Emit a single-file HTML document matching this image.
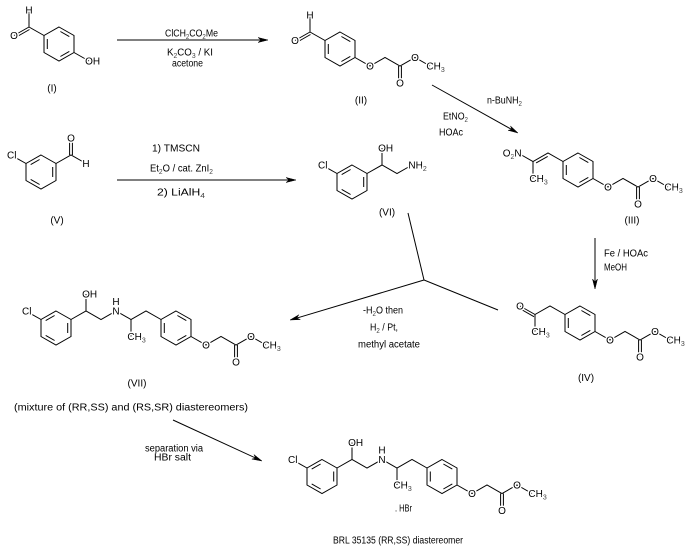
<!DOCTYPE html>
<html>
<head>
<meta charset="utf-8">
<style>
html,body{margin:0;padding:0;background:#fff;}
svg{display:block;}
line,polygon,polyline{stroke:#000;stroke-width:1;fill:none;}
polygon.ah{fill:#000;stroke:#000;stroke-width:0.5;}
text{font-family:"Liberation Sans",Arial,sans-serif;font-size:10px;fill:#000;}
.at{stroke:#fff;stroke-width:3;paint-order:stroke;stroke-linejoin:round;}
.s{font-size:7px;fill:#444;}
.mid{text-anchor:middle;}
.end{text-anchor:end;}
</style>
</head>
<body>
<svg width="688" height="548" viewBox="0 0 688 548" xmlns="http://www.w3.org/2000/svg">
<rect x="0" y="0" width="688" height="548" fill="#fff"/>

<!-- ===== Structure I ===== -->
<g transform="translate(59,44)">
  <polygon points="0,-17 15,-8.5 15,8.5 0,17 -15,8.5 -15,-8.5"/>
  <line x1="1.4" y1="-12.5" x2="10.3" y2="-7.4"/>
  <line x1="10.3" y1="7.4" x2="1.4" y2="12.5"/>
  <line x1="-11.7" y1="5" x2="-11.7" y2="-5"/>
  <polyline points="-15,-8.5 -30,-17 -30,-34"/>
  <line x1="-30" y1="-17" x2="-45" y2="-8.5"/>
  <line x1="-29.5" y1="-14.5" x2="-43.5" y2="-6.5"/>
  <line x1="15" y1="8.5" x2="30" y2="17"/>
  <text class="at mid" x="-30" y="-30.5">H</text>
  <text class="at mid" x="-45" y="-5">O</text>
  <text class="at" x="26.1" y="20.5">OH</text>
</g>
<text class="mid" x="52" y="91.5">(I)</text>

<!-- Arrow 1 -->
<line x1="117" y1="40" x2="262" y2="40"/>
<polygon class="ah" points="268,40 258,37.5 261,40 258,42.5"/>
<text x="165" y="36.5" textLength="53" lengthAdjust="spacingAndGlyphs">ClCH<tspan class="s" dy="2.5">2</tspan><tspan dy="-2.5">CO</tspan><tspan class="s" dy="2.5">2</tspan><tspan dy="-2.5">Me</tspan></text>
<text x="167" y="55.5" textLength="46" lengthAdjust="spacingAndGlyphs">K<tspan class="s" dy="2.5">2</tspan><tspan dy="-2.5">CO</tspan><tspan class="s" dy="2.5">3</tspan><tspan dy="-2.5"> / KI</tspan></text>
<text x="172" y="66.5" textLength="31" lengthAdjust="spacingAndGlyphs">acetone</text>

<!-- ===== Structure II ===== -->
<g transform="translate(340,49)">
  <polygon points="0,-17 15,-8.5 15,8.5 0,17 -15,8.5 -15,-8.5"/>
  <line x1="1.4" y1="-12.5" x2="10.3" y2="-7.4"/>
  <line x1="10.3" y1="7.4" x2="1.4" y2="12.5"/>
  <line x1="-11.7" y1="5" x2="-11.7" y2="-5"/>
  <polyline points="-15,-8.5 -30,-17 -30,-34"/>
  <line x1="-30" y1="-17" x2="-45" y2="-8.5"/>
  <line x1="-29.5" y1="-14.5" x2="-43.5" y2="-6.5"/>
  <polyline points="15,8.5 30,17 45,8.5 60,17 75,8.5 90,17"/>
  <line x1="58.6" y1="17" x2="58.6" y2="34"/>
  <line x1="61.4" y1="17" x2="61.4" y2="34"/>
  <text class="at mid" x="-30" y="-30.5">H</text>
  <text class="at mid" x="-45" y="-5">O</text>
  <text class="at mid" x="30" y="20.5">O</text>
  <text class="at mid" x="60" y="37.5">O</text>
  <text class="at mid" x="75" y="12">O</text>
  <text class="at" x="86.4" y="20.5">CH<tspan class="s" dy="2.5">3</tspan></text>
</g>
<text class="mid" x="361" y="103.5">(II)</text>

<!-- Arrow 2 -->
<line x1="432" y1="85" x2="513" y2="130.2"/>
<polygon class="ah" points="518,133 508.05,130.31 511.89,129.59 510.49,125.95"/>
<text x="487" y="103.5" textLength="35" lengthAdjust="spacingAndGlyphs">n-BuNH<tspan class="s" dy="2.5">2</tspan></text>
<text x="443" y="119.5" textLength="25" lengthAdjust="spacingAndGlyphs">EtNO<tspan class="s" dy="2.5">2</tspan></text>
<text x="439" y="135.5" textLength="24" lengthAdjust="spacingAndGlyphs">HOAc</text>

<!-- ===== Structure III ===== -->
<g transform="translate(578,170)">
  <polygon points="0,-17 15,-8.5 15,8.5 0,17 -15,8.5 -15,-8.5"/>
  <line x1="1.4" y1="-12.5" x2="10.3" y2="-7.4"/>
  <line x1="10.3" y1="7.4" x2="1.4" y2="12.5"/>
  <line x1="-11.7" y1="5" x2="-11.7" y2="-5"/>
  <polyline points="-15,-8.5 -30,-17 -45,-8.5 -60,-17"/>
  <line x1="-30.3" y1="-13.6" x2="-41.9" y2="-7.1"/>
  <line x1="-45" y1="-8.5" x2="-45" y2="8.5"/>
  <polyline points="15,8.5 30,17 45,8.5 60,17 75,8.5 90,17"/>
  <line x1="58.6" y1="17" x2="58.6" y2="34"/>
  <line x1="61.4" y1="17" x2="61.4" y2="34"/>
  <text class="at end" x="-56.4" y="-13.5">O<tspan class="s" dy="2.5">2</tspan><tspan dy="-2.5">N</tspan></text>
  <text class="at" x="-48.6" y="12">CH<tspan class="s" dy="2.5">3</tspan></text>
  <text class="at mid" x="30" y="20.5">O</text>
  <text class="at mid" x="60" y="37.5">O</text>
  <text class="at mid" x="75" y="12">O</text>
  <text class="at" x="86.4" y="20.5">CH<tspan class="s" dy="2.5">3</tspan></text>
</g>
<text class="mid" x="632" y="223.5">(III)</text>

<!-- Arrow 4 (III -> IV) -->
<line x1="595" y1="238" x2="595" y2="283"/>
<polygon class="ah" points="595,289 592.5,279 595,282 597.5,279"/>
<text x="604" y="256.5" textLength="44" lengthAdjust="spacingAndGlyphs">Fe / HOAc</text>
<text x="604" y="270.5" textLength="23" lengthAdjust="spacingAndGlyphs">MeOH</text>

<!-- ===== Structure IV ===== -->
<g transform="translate(580,323)">
  <polygon points="0,-17 15,-8.5 15,8.5 0,17 -15,8.5 -15,-8.5"/>
  <line x1="1.4" y1="-12.5" x2="10.3" y2="-7.4"/>
  <line x1="10.3" y1="7.4" x2="1.4" y2="12.5"/>
  <line x1="-11.7" y1="5" x2="-11.7" y2="-5"/>
  <polyline points="-15,-8.5 -30,-17 -45,-8.5 -45,8.5"/>
  <line x1="-45" y1="-8.5" x2="-60" y2="-17"/>
  <line x1="-46" y1="-6.3" x2="-59.5" y2="-14"/>
  <polyline points="15,8.5 30,17 45,8.5 60,17 75,8.5 90,17"/>
  <line x1="58.6" y1="17" x2="58.6" y2="34"/>
  <line x1="61.4" y1="17" x2="61.4" y2="34"/>
  <text class="at mid" x="-60" y="-13.5">O</text>
  <text class="at" x="-48.6" y="12">CH<tspan class="s" dy="2.5">3</tspan></text>
  <text class="at mid" x="30" y="20.5">O</text>
  <text class="at mid" x="60" y="37.5">O</text>
  <text class="at mid" x="75" y="12">O</text>
  <text class="at" x="86.4" y="20.5">CH<tspan class="s" dy="2.5">3</tspan></text>
</g>
<text class="mid" x="586" y="381">(IV)</text>

<!-- ===== Structure V ===== -->
<g transform="translate(41,172)">
  <polygon points="0,-17 15,-8.5 15,8.5 0,17 -15,8.5 -15,-8.5"/>
  <line x1="11.7" y1="-5" x2="11.7" y2="5"/>
  <line x1="-1.4" y1="12.5" x2="-10.3" y2="7.4"/>
  <line x1="-10.3" y1="-7.4" x2="-1.4" y2="-12.5"/>
  <line x1="-15" y1="-8.5" x2="-24" y2="-13.6"/>
  <polyline points="15,-8.5 30,-17 45,-8.5"/>
  <line x1="28.6" y1="-17" x2="28.6" y2="-34"/>
  <line x1="31.4" y1="-17" x2="31.4" y2="-34"/>
  <text class="at end" x="-24.5" y="-13.5">Cl</text>
  <text class="at mid" x="30" y="-30.5">O</text>
  <text class="at mid" x="45" y="-5">H</text>
</g>
<text class="mid" x="57" y="223.5">(V)</text>

<!-- Arrow 3 (V -> VI) -->
<line x1="117" y1="180" x2="290" y2="180"/>
<polygon class="ah" points="296,180 286,177.5 289,180 286,182.5"/>
<text x="152" y="151.5" textLength="48" lengthAdjust="spacingAndGlyphs">1) TMSCN</text>
<text x="150" y="171.5" textLength="63" lengthAdjust="spacingAndGlyphs">Et<tspan class="s" dy="2.5">2</tspan><tspan dy="-2.5">O / cat. ZnI</tspan><tspan class="s" dy="2.5">2</tspan></text>
<text x="157" y="195.5" textLength="48" lengthAdjust="spacingAndGlyphs">2) LiAlH<tspan class="s" dy="2.5">4</tspan></text>

<!-- ===== Structure VI ===== -->
<g transform="translate(352,182)">
  <polygon points="0,-17 15,-8.5 15,8.5 0,17 -15,8.5 -15,-8.5"/>
  <line x1="11.7" y1="-5" x2="11.7" y2="5"/>
  <line x1="-1.4" y1="12.5" x2="-10.3" y2="7.4"/>
  <line x1="-10.3" y1="-7.4" x2="-1.4" y2="-12.5"/>
  <line x1="-15" y1="-8.5" x2="-24" y2="-13.6"/>
  <polyline points="15,-8.5 30,-17 45,-8.5 60,-17"/>
  <line x1="30" y1="-17" x2="30" y2="-34"/>
  <text class="at end" x="-24.5" y="-13.5">Cl</text>
  <text class="at" x="26.1" y="-30.5">OH</text>
  <text class="at" x="56.4" y="-13.5">NH<tspan class="s" dy="2.5">2</tspan></text>
</g>
<text class="mid" x="387" y="215.5">(VI)</text>

<!-- Convergent arrow (VI + IV -> VII) -->
<polyline points="408,213 424,280 498,310"/>
<line x1="424" y1="280" x2="296" y2="318.3"/>
<polygon class="ah" points="290,320 298.87,314.75 296.71,318.0 300.30,319.54"/>
<text x="363" y="313.5" textLength="40" lengthAdjust="spacingAndGlyphs">-H<tspan class="s" dy="2.5">2</tspan><tspan dy="-2.5">O then</tspan></text>
<text x="370" y="330.5" textLength="28" lengthAdjust="spacingAndGlyphs">H<tspan class="s" dy="2.5">2</tspan><tspan dy="-2.5"> / Pt,</tspan></text>
<text x="358" y="347.5" textLength="62" lengthAdjust="spacingAndGlyphs">methyl acetate</text>

<!-- ===== Structure VII ===== -->
<g transform="translate(56,328)">
  <polygon points="0,-17 15,-8.5 15,8.5 0,17 -15,8.5 -15,-8.5"/>
  <line x1="11.7" y1="-5" x2="11.7" y2="5"/>
  <line x1="-1.4" y1="12.5" x2="-10.3" y2="7.4"/>
  <line x1="-10.3" y1="-7.4" x2="-1.4" y2="-12.5"/>
  <line x1="-15" y1="-8.5" x2="-24" y2="-13.6"/>
  <polyline points="15,-8.5 30,-17 45,-8.5 60,-17 75,-8.5 90,-17 105,-8.5"/>
  <line x1="30" y1="-17" x2="30" y2="-34"/>
  <line x1="75" y1="-8.5" x2="75" y2="8.5"/>
  <g transform="translate(120,0)">
    <polygon points="0,-17 15,-8.5 15,8.5 0,17 -15,8.5 -15,-8.5"/>
    <line x1="1.4" y1="-12.5" x2="10.3" y2="-7.4"/>
    <line x1="10.3" y1="7.4" x2="1.4" y2="12.5"/>
    <line x1="-11.7" y1="5" x2="-11.7" y2="-5"/>
  </g>
  <polyline points="135,8.5 150,17 165,8.5 180,17 195,8.5 210,17"/>
  <line x1="178.6" y1="17" x2="178.6" y2="34"/>
  <line x1="181.4" y1="17" x2="181.4" y2="34"/>
  <text class="at end" x="-24.5" y="-13.5">Cl</text>
  <text class="at" x="26.1" y="-30.5">OH</text>
  <text class="at mid" x="60" y="-23">H</text>
  <text class="at mid" x="60" y="-13.5">N</text>
  <text class="at" x="71.4" y="12">CH<tspan class="s" dy="2.5">3</tspan></text>
  <text class="at mid" x="150" y="20.5">O</text>
  <text class="at mid" x="180" y="37.5">O</text>
  <text class="at mid" x="195" y="12">O</text>
  <text class="at" x="206.4" y="20.5">CH<tspan class="s" dy="2.5">3</tspan></text>
</g>
<text class="mid" x="137" y="386.5">(VII)</text>
<text x="14" y="410.5" textLength="234" lengthAdjust="spacingAndGlyphs">(mixture of (RR,SS) and (RS,SR) diastereomers)</text>

<!-- Arrow 6 (VII -> final) -->
<line x1="173" y1="420" x2="256" y2="458.2"/>
<polygon class="ah" points="262,461 251.88,459.09 255.64,458.07 253.97,454.55"/>
<text x="145" y="451.5" textLength="58" lengthAdjust="spacingAndGlyphs">separation via</text>
<text x="154" y="460.5" textLength="37" lengthAdjust="spacingAndGlyphs">HBr salt</text>

<!-- ===== Final structure ===== -->
<g transform="translate(322,476.5)">
  <polygon points="0,-17 15,-8.5 15,8.5 0,17 -15,8.5 -15,-8.5"/>
  <line x1="11.7" y1="-5" x2="11.7" y2="5"/>
  <line x1="-1.4" y1="12.5" x2="-10.3" y2="7.4"/>
  <line x1="-10.3" y1="-7.4" x2="-1.4" y2="-12.5"/>
  <line x1="-15" y1="-8.5" x2="-24" y2="-13.6"/>
  <polyline points="15,-8.5 30,-17 45,-8.5 60,-17 75,-8.5 90,-17 105,-8.5"/>
  <line x1="30" y1="-17" x2="30" y2="-34"/>
  <line x1="75" y1="-8.5" x2="75" y2="8.5"/>
  <g transform="translate(120,0)">
    <polygon points="0,-17 15,-8.5 15,8.5 0,17 -15,8.5 -15,-8.5"/>
    <line x1="1.4" y1="-12.5" x2="10.3" y2="-7.4"/>
    <line x1="10.3" y1="7.4" x2="1.4" y2="12.5"/>
    <line x1="-11.7" y1="5" x2="-11.7" y2="-5"/>
  </g>
  <polyline points="135,8.5 150,17 165,8.5 180,17 195,8.5 210,17"/>
  <line x1="178.6" y1="17" x2="178.6" y2="34"/>
  <line x1="181.4" y1="17" x2="181.4" y2="34"/>
  <text class="at end" x="-24.5" y="-13.5">Cl</text>
  <text class="at" x="26.1" y="-30.5">OH</text>
  <text class="at mid" x="60" y="-23">H</text>
  <text class="at mid" x="60" y="-13.5">N</text>
  <text class="at" x="71.4" y="12">CH<tspan class="s" dy="2.5">3</tspan></text>
  <text class="at mid" x="150" y="20.5">O</text>
  <text class="at mid" x="180" y="37.5">O</text>
  <text class="at mid" x="195" y="12">O</text>
  <text class="at" x="206.4" y="20.5">CH<tspan class="s" dy="2.5">3</tspan></text>
</g>
<text x="395" y="511.5" textLength="17" lengthAdjust="spacingAndGlyphs">. HBr</text>
<text x="333" y="543.5" textLength="130" lengthAdjust="spacingAndGlyphs">BRL 35135 (RR,SS) diastereomer</text>

</svg>
</body>
</html>
